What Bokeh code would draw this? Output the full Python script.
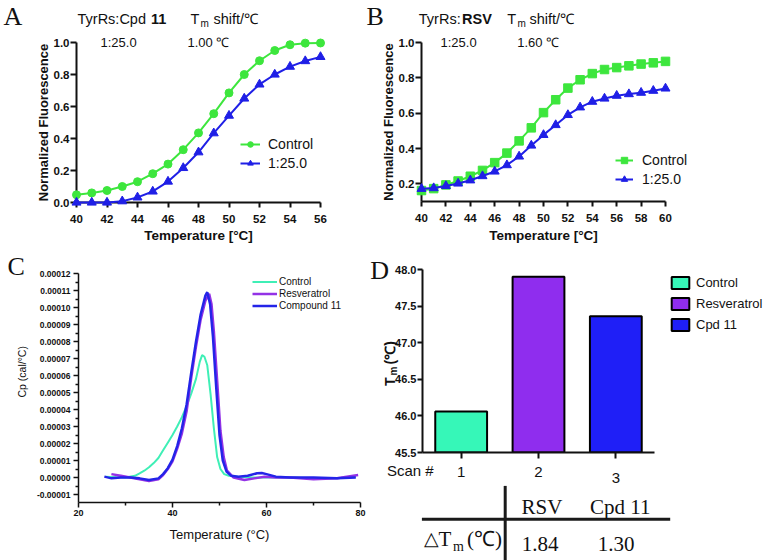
import math
from bokeh.plotting import figure
from bokeh.models import (Legend, LegendItem, FixedTicker, PrintfTickFormatter,
                          Range1d, ColumnDataSource)
from bokeh.layouts import row, column
from bokeh.embed import file_html
from bokeh.resources import INLINE
from bokeh.core.properties import value

SANS = "Liberation Sans"
SERIF = "Liberation Serif"

# ---------------- Panel A : TyrRs:Cpd 11 thermal shift ----------------
a_temp = [40, 41, 42, 43, 44, 45, 46, 47, 48, 49, 50, 51, 52, 53, 54, 55, 56]
a_control = [0.048, 0.060, 0.075, 0.100, 0.130, 0.180, 0.240, 0.330, 0.435, 0.555,
             0.685, 0.800, 0.886, 0.950, 0.986, 0.996, 0.997]
a_cpd11 = [0.000, 0.000, 0.000, 0.008, 0.032, 0.069, 0.131, 0.216, 0.314, 0.433,
           0.543, 0.650, 0.738, 0.800, 0.849, 0.884, 0.910]
a_xticks = [40, 42, 44, 46, 48, 50, 52, 54, 56]
a_yticks = [0.0, 0.2, 0.4, 0.6, 0.8, 1.0]

# ---------------- Panel B : TyrRs:RSV thermal shift ----------------
b_temp = [40, 41, 42, 43, 44, 45, 46, 47, 48, 49, 50, 51, 52, 53, 54, 55, 56, 57, 58, 59, 60]
b_control = [0.162, 0.173, 0.194, 0.216, 0.243, 0.276, 0.320, 0.374, 0.443, 0.517, 0.603,
             0.676, 0.742, 0.789, 0.824, 0.847, 0.858, 0.868, 0.878, 0.885, 0.893]
b_rsv = [0.172, 0.176, 0.188, 0.202, 0.220, 0.244, 0.270, 0.306, 0.355, 0.417, 0.477,
         0.533, 0.590, 0.633, 0.665, 0.683, 0.699, 0.708, 0.716, 0.727, 0.740]
b_xticks = [40, 42, 44, 46, 48, 50, 52, 54, 56, 58, 60]
b_yticks = [0.2, 0.4, 0.6, 0.8, 1.0]

# ---------------- Panel C : DSC thermograms (Cp in 1e-5 cal/degC) ----------------
c_t_ctrl = [25.7, 28, 30, 32, 33, 34, 35, 36, 37, 38, 39, 40, 41, 42, 43, 44, 45, 45.8, 46.3, 46.8,
            47.4, 48.1, 48.8, 49.5, 50.2, 51, 52, 54, 57, 60, 65, 70, 75, 79]
c_cp_ctrl = [0.05, 0.02, 0.0, 0.1, 0.24, 0.4, 0.6, 0.85, 1.15, 1.6, 2.05, 2.5, 3.0, 3.55, 4.2, 4.95,
             5.8, 6.8, 7.2, 7.1, 6.6, 4.9, 2.9, 1.2, 0.5, 0.2, 0.1, 0.05, 0.0, 0.0, 0.0, -0.05, -0.05, 0.05]
c_t_rsv = [27, 29, 31, 33, 35, 37, 38, 39, 40, 41, 42, 43, 44, 45, 46, 47, 47.8, 48.3, 48.8, 49.5,
           50.2, 50.9, 51.6, 53, 55.3, 57.4, 59.6, 62, 65, 70, 75, 79.5]
c_cp_rsv = [0.2, 0.1, 0.0, -0.1, -0.2, -0.1, 0.15, 0.5, 0.95, 1.7, 2.6, 3.9, 5.9, 7.7, 9.3, 10.4,
            10.8, 10.2, 8.6, 5.7, 2.75, 1.2, 0.4, 0.0, -0.15, -0.05, 0.05, 0.0, 0.0, -0.1, -0.05, 0.15]
c_t_cpd = [25.5, 27, 29, 31, 33, 35, 37, 38, 39, 40, 41, 42, 43, 44, 45, 46, 47, 47.4, 48, 48.6,
           49.3, 50, 50.7, 51.5, 52.5, 54, 56, 58, 59, 60, 62, 65, 70, 75, 79]
c_cp_cpd = [0.05, -0.05, 0.0, 0.0, -0.05, -0.15, -0.05, 0.2, 0.55, 1.05, 1.85, 2.9, 4.3, 6.2, 8.0,
            9.6, 10.7, 10.9, 10.2, 8.3, 5.3, 2.5, 1.0, 0.35, 0.1, 0.05, 0.1, 0.25, 0.26, 0.2, 0.05,
            0.0, 0.0, -0.05, 0.0]
CP_UNIT = 1e-5
c_names = ["Control", "Resveratrol", "Compound 11"]
c_xticks = [20, 40, 60, 80]
c_xminor = [30, 50, 70]
c_yticks = [round(k * CP_UNIT, 10) for k in range(-1, 13)]
c_yminor = [round((k + 0.5) * CP_UNIT, 10) for k in range(-2, 12)]

# ---------------- Panel D : Tm bars + table ----------------
d_scan = [1, 2, 3]
d_names = ["Control", "Resveratrol", "Cpd 11"]
d_tm = [46.06, 47.90, 47.36]
d_yticks = [45.5, 46.0, 46.5, 47.0, 47.5, 48.0]
table_cols = ["RSV", "Cpd 11"]
table_dtm = [1.84, 1.30]

GREEN = "#3DE63D"
BLUE = "#1F1FE6"
C_COLORS = ["#3FEFB6", "#9332E6", "#2424E8"]
D_COLORS = ["#36F7B8", "#8F2DEE", "#1F1FF7"]
INK = "#111111"


def base_fig(w, h, xr, yr, l, r, t, b):
    p = figure(width=w, height=h, x_range=Range1d(*xr), y_range=Range1d(*yr),
               output_backend="svg", toolbar_location=None,
               min_border_left=l, min_border_right=r, min_border_top=t, min_border_bottom=b)
    p.outline_line_color = None
    p.grid.visible = False
    p.background_fill_color = "white"
    p.border_fill_color = "white"
    p.frame_align = False
    # pixel scale of the frame, used only to place annotation texts
    p.tags = [(w - l - r) / (xr[1] - xr[0]), (h - t - b) / (yr[1] - yr[0])]
    return p


def style_axis(ax, ticks, size, style="bold", tick_out=5, standoff=3, lw=2, minor=None, minor_out=0):
    ax.ticker = FixedTicker(ticks=ticks, minor_ticks=minor or [])
    ax.axis_line_width = lw
    ax.axis_line_color = INK
    ax.major_tick_line_width = lw
    ax.major_tick_line_color = INK
    ax.major_tick_out = tick_out
    ax.major_tick_in = 0
    ax.minor_tick_out = minor_out
    ax.minor_tick_in = 0
    ax.minor_tick_line_width = lw
    ax.minor_tick_line_color = INK
    ax.major_label_text_font = SANS
    ax.major_label_text_font_size = size
    ax.major_label_text_font_style = style
    ax.major_label_text_color = INK
    ax.major_label_standoff = standoff


def title_axis(ax, text, size, style="bold", standoff=3):
    ax.axis_label = text
    ax.axis_label_text_font = SANS
    ax.axis_label_text_font_size = size
    ax.axis_label_text_font_style = style
    ax.axis_label_text_color = INK
    ax.axis_label_standoff = standoff


def txt(p, text, ax, ay, dx, dy, size, font=SANS, style="normal", align="left",
        baseline="middle", angle=0.0):
    """Text placed dx px right / dy px down from the data anchor (ax, ay)."""
    kx, ky = p.tags
    p.text(x=[ax + dx / kx], y=[ay - dy / ky], text=[text], angle=angle,
           text_font=value(font), text_font_size=f"{size}px", text_font_style=style,
           text_align=align, text_baseline=baseline, text_color=INK, level="overlay")


def legend(items, loc, gw, gh, spacing, standoff, size):
    return Legend(items=items, location=loc, orientation="vertical", glyph_width=gw,
                  glyph_height=gh, label_height=gh, spacing=spacing, label_standoff=standoff,
                  padding=0, margin=0, border_line_color=None, background_fill_alpha=0,
                  label_text_font=SANS, label_text_font_size=size, label_text_color=INK)


# ======================= Panel A =======================
pA = base_fig(360, 252, (40, 56), (0, 1), 76, 40, 42, 50)
style_axis(pA.xaxis[0], a_xticks, "11.5px", tick_out=5, standoff=7)
style_axis(pA.yaxis[0], a_yticks, "11.5px", tick_out=6, standoff=1)
pA.yaxis[0].formatter = PrintfTickFormatter(format="%.1f")
title_axis(pA.xaxis[0], "Temperature [°C]", "13.5px", standoff=2)
title_axis(pA.yaxis[0], "Normalized Fluorescence", "13px", standoff=0)
lA1 = pA.line(a_temp, a_control, line_color=GREEN, line_width=2, level="overlay")
sA1 = pA.scatter(a_temp, a_control, marker="circle", size=8, color=GREEN, level="overlay")
lA2 = pA.line(a_temp, a_cpd11, line_color=BLUE, line_width=2, level="overlay")
sA2 = pA.scatter(a_temp, a_cpd11, marker="triangle", size=9, color=BLUE, level="overlay")
pA.add_layout(legend([LegendItem(label=value("Control"), renderers=[lA1, sA1]),
                      LegendItem(label=value("1:25.0"), renderers=[lA2, sA2])],
                     (164, 31), 20, 14, 3, 8, "14px"))
# anchor (40, 1.0) = top-left axis corner
txt(pA, "A", 40, 1.0, -73, -26.5, 26, font=SERIF)
txt(pA, "TyrRs:Cpd", 40, 1.0, 1, -23.5, 14.5)
txt(pA, "11", 40, 1.0, 74.5, -23.5, 14.5, style="bold")
txt(pA, "T", 40, 1.0, 114, -23.5, 14.5)
txt(pA, "m", 40, 1.0, 124, -19, 10)
txt(pA, "shift/℃", 40, 1.0, 137, -23.5, 14.5)
txt(pA, "1:25.0", 40, 1.0, 24, -0.5, 13)
txt(pA, "1.00 ℃", 40, 1.0, 111, -0.5, 13)

# ======================= Panel B =======================
B_XEND = 40 + (406 - 61 - 66) / 12.2
pB = base_fig(406, 252, (40, B_XEND), (0.1, 1.0), 61, 66, 42, 51)
style_axis(pB.xaxis[0], b_xticks, "11.5px", tick_out=5, standoff=7)
style_axis(pB.yaxis[0], b_yticks, "11.5px", tick_out=6, standoff=1)
pB.xaxis[0].bounds = (b_xticks[0], b_xticks[-1])
pB.yaxis[0].formatter = PrintfTickFormatter(format="%.1f")
title_axis(pB.yaxis[0], "Normalized Fluorescence", "13px", standoff=0)
lB1 = pB.line(b_temp, b_control, line_color=GREEN, line_width=2, level="overlay")
sB1 = pB.scatter(b_temp, b_control, marker="square", size=8.5, color=GREEN, level="overlay")
lB2 = pB.line(b_temp, b_rsv, line_color=BLUE, line_width=2, level="overlay")
sB2 = pB.scatter(b_temp, b_rsv, marker="triangle", size=9, color=BLUE, level="overlay")
pB.add_layout(legend([LegendItem(label=value("Control"), renderers=[lB1, sB1]),
                      LegendItem(label=value("1:25.0"), renderers=[lB2, sB2])],
                     (194, 14), 18, 16, 3, 9, "14px"))
txt(pB, "Temperature [°C]", 50, 0.1, 0, 33.5, 13.5, style="bold", align="center")
txt(pB, "B", 40, 1.0, -55, -26.5, 26, font=SERIF)
txt(pB, "TyrRs:", 40, 1.0, -2.7, -23.5, 14.5)
txt(pB, "RSV", 40, 1.0, 40.5, -23.5, 14.5, style="bold")
txt(pB, "T", 40, 1.0, 85.7, -23.5, 14.5)
txt(pB, "m", 40, 1.0, 96, -19, 10)
txt(pB, "shift/℃", 40, 1.0, 108, -23.5, 14.5)
txt(pB, "1:25.0", 40, 1.0, 19, 0.2, 13)
txt(pB, "1.60 ℃", 40, 1.0, 95.7, 0.2, 13)

# ======================= Panel C =======================
pC = base_fig(366, 308, (20, 80), (-1.47e-5, 1.2e-4), 78, 6, 21, 58)
style_axis(pC.xaxis[0], c_xticks, "9px", tick_out=5, standoff=2, lw=1.5, minor=c_xminor, minor_out=3)
style_axis(pC.yaxis[0], c_yticks, "8.5px", tick_out=5, standoff=3, lw=1.5, minor=c_yminor, minor_out=3)
pC.yaxis[0].formatter = PrintfTickFormatter(format="%.5f")
title_axis(pC.xaxis[0], "Temperature (°C)", "13px", style="normal", standoff=8)
rc = []
for t, cp, col, lw in [(c_t_ctrl, c_cp_ctrl, C_COLORS[0], 2),
                       (c_t_rsv, c_cp_rsv, C_COLORS[1], 2.5),
                       (c_t_cpd, c_cp_cpd, C_COLORS[2], 2.5)]:
    rc.append(pC.line(t, [v * CP_UNIT for v in cp], line_color=col, line_width=lw))
pC.add_layout(legend([LegendItem(label=value(n), renderers=[r]) for n, r in zip(c_names, rc)],
                     (174, 191), 25, 11, 1, 2, "10px"))
txt(pC, "C", 20, 0, -71, -211.5, 26, font=SERIF)
txt(pC, "Cp (cal/°C)", 20, 0, -56.3, -105.7, 10.5, align="center", angle=math.pi / 2)

# ======================= Panel D =======================
D_BASE = d_yticks[0]
D_XEND = 0.5 + (400 - 56 - 0) / 77.333
pD = base_fig(400, 308, (0.5, D_XEND), (D_BASE, d_yticks[-1]), 56, 0, 17, 108)
style_axis(pD.xaxis[0], d_scan, "15px", style="normal", tick_out=6, standoff=8)
pD.xaxis[0].bounds = (0.5, 3.5)
pD.xaxis[0].major_label_overrides = {3: ""}
style_axis(pD.yaxis[0], d_yticks, "11px", tick_out=5, standoff=1)
pD.yaxis[0].formatter = PrintfTickFormatter(format="%.1f")
srcD = ColumnDataSource(dict(x=d_scan, top=d_tm, color=D_COLORS, name=d_names))
rD = pD.vbar(x="x", top="top", bottom=D_BASE, width=0.67, fill_color="color",
             line_color="black", line_width=2, source=srcD)
pD.add_layout(legend([LegendItem(label=value(n), renderers=[rD], index=i)
                      for i, n in enumerate(d_names)],
                     (247, 120), 22, 15, 6, 5, "13px"))
txt(pD, "D", 0.5, D_BASE, -52.3, -181.6, 26, font=SERIF)
txt(pD, "Scan #", 0.5, D_BASE, -35.6, 18.4, 15)
txt(pD, "3", 3, D_BASE, 0, 25.1, 15, align="center")
txt(pD, "T", 0.5, D_BASE, -32.3, -66.6, 14, style="bold", baseline="alphabetic", angle=math.pi / 2)
txt(pD, "m", 0.5, D_BASE, -28.8, -77.0, 10, style="bold", baseline="alphabetic", angle=math.pi / 2)
txt(pD, "(℃)", 0.5, D_BASE, -32.3, -88.0, 14, style="bold", baseline="alphabetic", angle=math.pi / 2)

# ---- small table below panel D (positions in px from the axis corner) ----
kx, ky = pD.tags
pD.segment(x0=[0.5 - 0.6 / kx, 0.5 + 82.7 / kx], y0=[D_BASE - 66.7 / ky, D_BASE - 33.4 / ky],
           x1=[0.5 + 247.7 / kx, 0.5 + 82.7 / kx], y1=[D_BASE - 66.7 / ky, D_BASE - 110 / ky],
           line_width=3, line_color="#1a1a1a", level="overlay")
for name, dx in zip(table_cols, [119.4, 197.7]):
    txt(pD, name, 0.5, D_BASE, dx, 54.4, 21, font=SERIF, align="center")
for v, dx in zip(table_dtm, [117.7, 193.7]):
    txt(pD, f"{v:.2f}", 0.5, D_BASE, dx, 91.4, 21, font=SERIF, align="center")
txt(pD, "△", 0.5, D_BASE, 1, 86.4, 19, font=SERIF)
txt(pD, "T", 0.5, D_BASE, 16, 86.4, 21, font=SERIF)
txt(pD, "m", 0.5, D_BASE, 30.4, 94.4, 14, font=SERIF)
txt(pD, "(℃)", 0.5, D_BASE, 44.4, 86.4, 21, font=SERIF)

layout = column(row(pA, pB), row(pC, pD))
open("out.html", "w").write(file_html(layout, INLINE))
